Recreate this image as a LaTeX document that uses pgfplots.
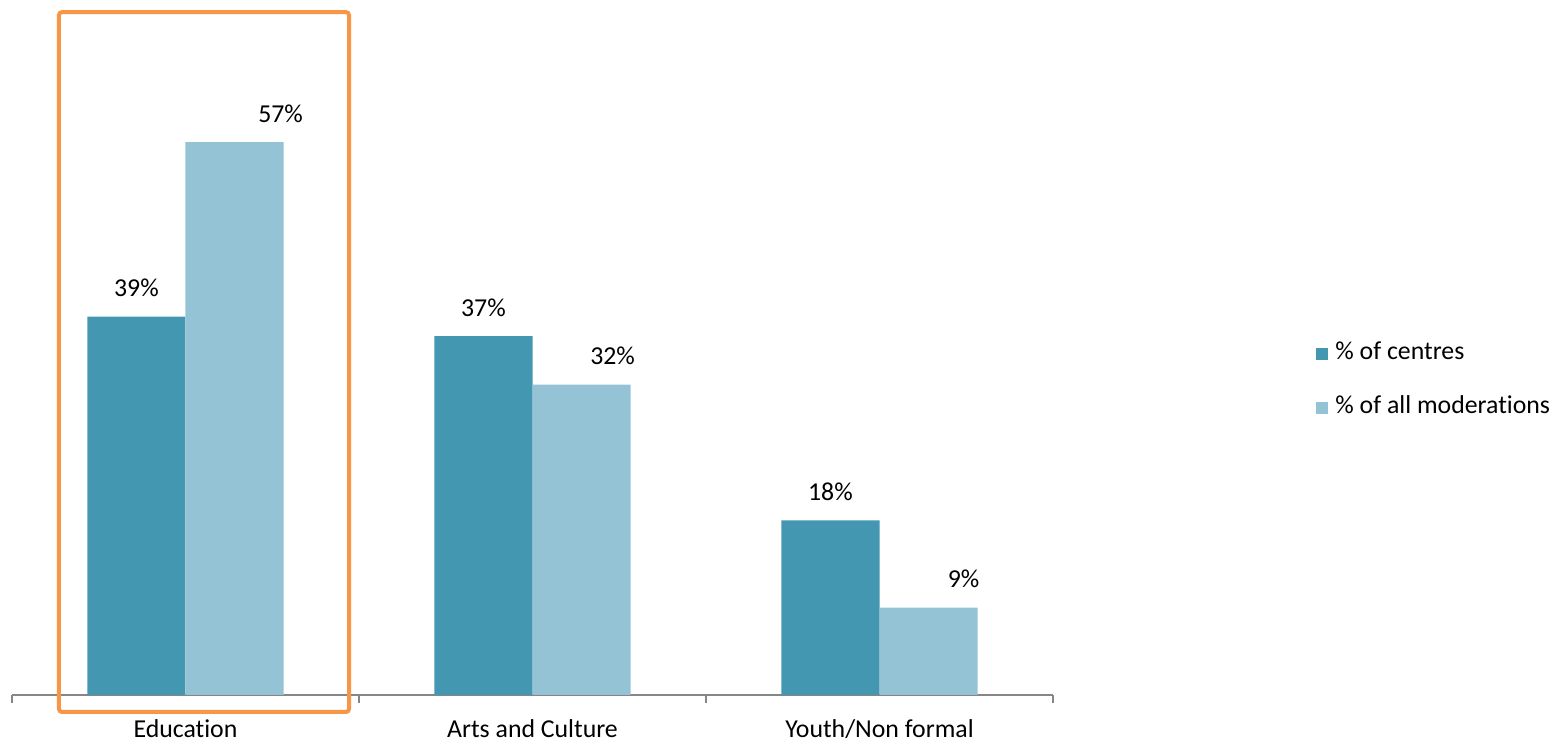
\documentclass[border=0pt]{standalone}
\usepackage{pgfplots}
\pgfplotsset{compat=1.18}
\usepackage{pgfplotstable}
\usepackage{fontspec}
\setmainfont[Ligatures=NoCommon]{Carlito}
\definecolor{darkbar}{HTML}{4397B0}
\definecolor{lightbar}{HTML}{93C3D4}
\definecolor{boxorange}{HTML}{F79646}
\definecolor{axisgrey}{HTML}{868686}

\pgfplotstableread{
x dark light dx
0 39 57 23
1 37 32 15.5
2 18 9 17.5
}\datatable

\begin{document}
\begin{tikzpicture}[font=\fontsize{12.9}{15.5}\selectfont]
\begin{axis}[
  scale only axis, width=520.5pt, height=339.5pt,
  xmin=-0.5, xmax=2.5, ymin=0, ymax=70,
  clip=false,
  hide y axis,
  axis x line*=bottom,
  x axis line style={axisgrey, line width=0.75pt, -},
  xtick={0,1,2},
  xticklabels={Education, Arts and Culture, Youth/Non formal},
  minor xtick={-0.5,0.5,1.5,2.5},
  major tick length=0pt, minor tick length=4pt, tick align=outside,
  tick style={axisgrey, line width=0.75pt},
  xticklabel style={anchor=base, yshift=-21.5pt},
  /pgf/number format/assume math mode=true,
  ybar, bar width=0.283,
  nodes near coords={\pgfmathprintnumber[fixed,precision=0]{\pgfplotspointmeta}\%},
  every node near coord/.append style={anchor=base, yshift=10pt, text=black},
  legend image code/.code={\fill[#1] (0pt,-3pt) rectangle (6pt,3pt);},
  legend style={draw=none, fill=none, at={(1.2527,0.4625)}, anchor=west,
    inner sep=0pt, row sep=15pt, column sep=0pt,
    nodes={inner sep=0pt, text height=9pt, text depth=3pt}},
  legend cell align=left,
]
\addplot[fill=darkbar, draw=none, bar shift=-0.1415] table[x=x, y=dark] {\datatable};
\addlegendentry{\hspace{3.5pt}\% of centres}
\addplot[fill=lightbar, draw=none, bar shift=0.1415,
  visualization depends on={\thisrow{dx} \as \dxshift},
  every node near coord/.append style={xshift=\dxshift pt}] table[x=x, y=light] {\datatable};
\addlegendentry{\hspace{3.5pt}\% of all moderations}
\draw[boxorange, line width=2pt, rounded corners=1.5pt]
  (axis cs:-0.3646,-1.75) rectangle (axis cs:0.4712,70.4);
\end{axis}
\pgfresetboundingbox
\path (-6pt,-23.5pt) rectangle (773pt,347.5pt);
\end{tikzpicture}
\end{document}
